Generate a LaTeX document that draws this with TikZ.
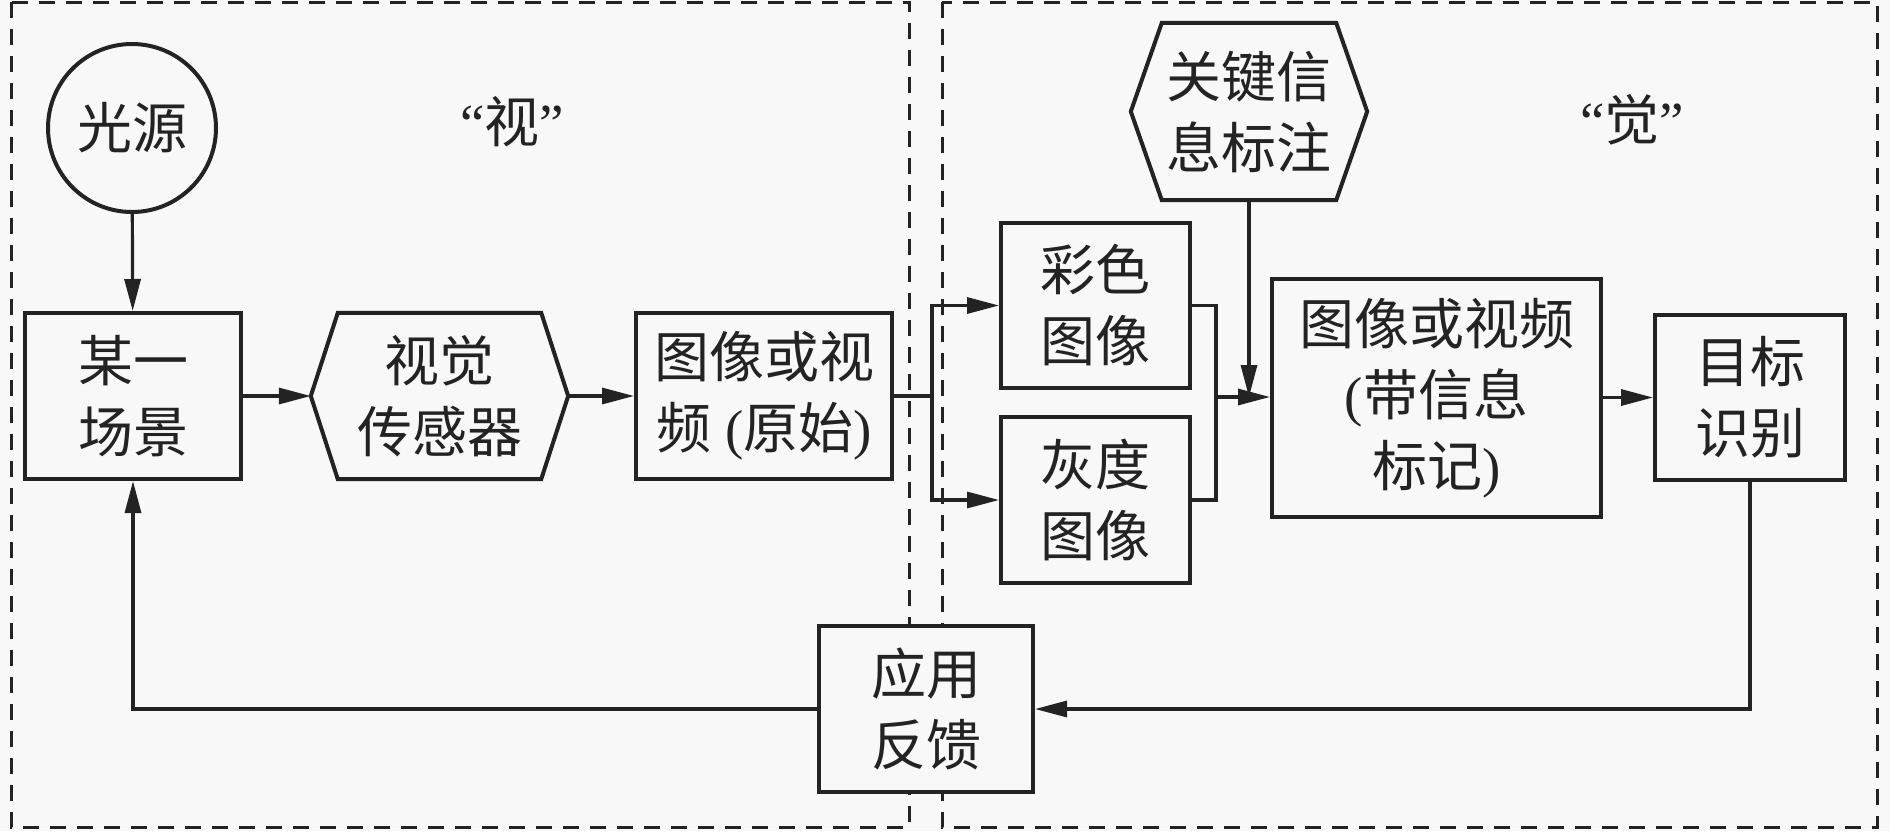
\documentclass[tikz,border=0pt]{standalone}
\usepackage{fontspec}
\setmainfont{Liberation Serif}
\newfontfamily\cjk{Noto Sans CJK SC}
\usetikzlibrary{arrows.meta,calc}
\newcommand\zh[1]{{\cjk #1}}
\definecolor{bgc}{RGB}{248,248,248}
\definecolor{ink}{RGB}{35,35,35}
\begin{document}
\begin{tikzpicture}[x=1pt,y=-1pt,
  txt/.style={inner sep=0pt, align=center, text=ink, font=\fontsize{55}{71}\selectfont},
  box/.style={txt, draw=ink, line width=4pt, fill=bgc},
  hexline/.style={draw=ink, line width=4pt, line join=miter},
  conn/.style={draw=ink, line width=3.2pt},
  arr/.style={conn, -{Triangle[length=32pt,width=16pt]}},
  region/.style={draw=ink, line width=3pt, dash pattern=on 16pt off 11pt}]
\fill[bgc] (0,0) rectangle (1890,831);
\useasboundingbox (0,0) rectangle (1890,831);
% regions
\draw[region] (11,2) rectangle (909,827);
\draw[region] (942,2) rectangle (1877,827);
\node[txt] (shi) at (512,122) {“\zh{视}”};
\node[txt] (jue) at (1632,120) {“\zh{觉}”};
% nodes
\node[box, circle, minimum size=168pt] (light) at (132,128) {\zh{光源}};
\node[box, minimum width=216pt, minimum height=166pt] (scene) at (133,396) {\zh{某一}\\\zh{场景}};
\node[txt, minimum width=203pt, minimum height=166pt] (sensor) at (439.5,396) {\zh{视觉}\\\zh{传感器}};
\coordinate (sensorW) at ($(sensor.west)+(-27,0)$);
\coordinate (sensorE) at ($(sensor.east)+(27,0)$);
\draw[hexline] (sensor.north west) -- (sensor.north east) -- (sensorE) -- (sensor.south east) -- (sensor.south west) -- (sensorW) -- cycle;
\node[box, minimum width=256pt, minimum height=166pt] (raw) at (764,396) {\zh{图像或视}\\\zh{频} (\zh{原始})};
\node[box, minimum width=189pt, minimum height=165pt] (color) at (1095.5,305.5) {\zh{彩色}\\\zh{图像}};
\node[box, minimum width=189pt, minimum height=166pt] (gray) at (1095.5,500) {\zh{灰度}\\\zh{图像}};
\node[txt, minimum width=174pt, minimum height=177pt] (key) at (1249,111.5) {\zh{关键信}\\\zh{息标注}};
\coordinate (keyW) at ($(key.west)+(-31,0)$);
\coordinate (keyE) at ($(key.east)+(31,0)$);
\draw[hexline, fill=bgc] (key.north west) -- (key.north east) -- (keyE) -- (key.south east) -- (key.south west) -- (keyW) -- cycle;
\node[txt] at (key) {\zh{关键信}\\\zh{息标注}};
\node[box, minimum width=329pt, minimum height=238pt] (tagged) at (1436.5,398) {\zh{图像或视频}\\(\zh{带信息}\\\zh{标记})};
\node[box, minimum width=190pt, minimum height=165pt] (target) at (1750,397.5) {\zh{目标}\\\zh{识别}};
\node[box, minimum width=214pt, minimum height=166pt] (feedback) at (926,709) {\zh{应用}\\\zh{反馈}};
% connectors
\coordinate (split) at (932,396);
\coordinate (merge) at (1216,397);
\draw[arr] (light) -- (scene);
\draw[arr] (scene.east) -- (sensorW);
\draw[arr] (sensorE) -- (raw.west);
\draw[conn] (raw.east) -- (split);
\draw[arr] (split) |- (color.west);
\draw[arr] (split) |- (gray.west);
\draw[conn] (color.east) -| (merge) |- (gray.east);
\draw[arr] (merge) -- (merge -| tagged.west);
\draw[arr] (key.south) -- (key.south |- merge);
\draw[arr] (tagged.east |- target.west) -- (target.west);
\draw[arr] (target.south) |- (feedback.east);
\draw[arr] (feedback.west) -| (scene.south);
\end{tikzpicture}
\end{document}
